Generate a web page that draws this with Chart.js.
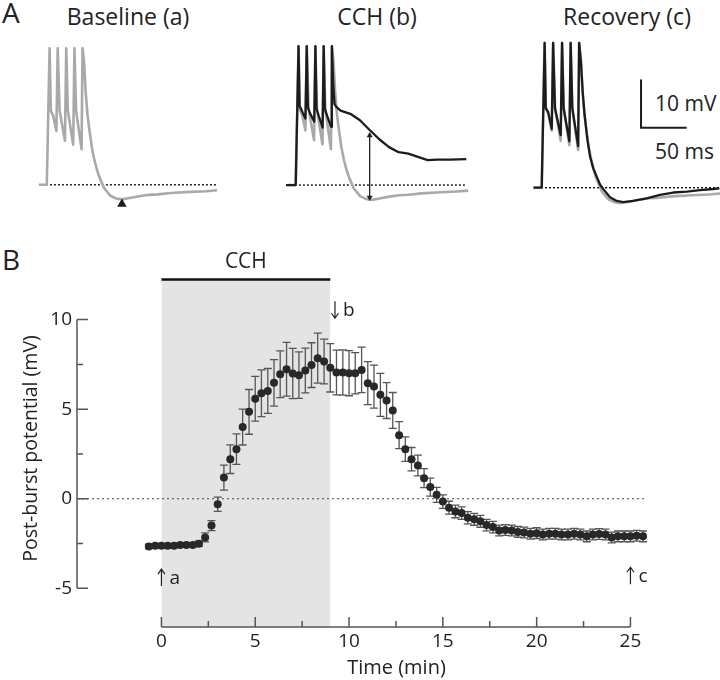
<!DOCTYPE html>
<html lang="en">
<head>
<meta charset="UTF-8" />
<title>Post-burst potential</title>
<script src="https://cdn.jsdelivr.net/npm/chart.js@4"></script>
<style>
  body { margin: 0; background: #fff; }
  #wrap { position: relative; width: 720px; height: 680px; font-family: "Open Sans", sans-serif; color: #222; }
  canvas { position: absolute; }
  .lbl { position: absolute; line-height: 1; white-space: nowrap; }
  .ttl { font-size: 23px; transform: translateX(-50%); top: 5px; }
</style>
</head>
<body>
<div id="wrap">
  <div class="lbl" style="left:2px; top:-2px; font-size:28px;">A</div>
  <div class="lbl" style="left:2px; top:245px; font-size:28px;">B</div>
  <div class="lbl ttl" style="left:128px;">Baseline (a)</div>
  <div class="lbl ttl" style="left:377px;">CCH (b)</div>
  <div class="lbl ttl" style="left:627px;">Recovery (c)</div>
  <div class="lbl" style="left:655px; top:93px; font-size:21px;">10 mV</div>
  <div class="lbl" style="left:655px; top:141px; font-size:21px;">50 ms</div>

  <canvas id="traceA" width="240" height="190" style="left:0; top:30px;"></canvas>
  <canvas id="traceB" width="240" height="190" style="left:240px; top:30px;"></canvas>
  <canvas id="traceC" width="240" height="190" style="left:480px; top:30px;"></canvas>
  <canvas id="summary" width="720" height="450" style="left:0; top:230px;"></canvas>
</div>

<script>
// ---- panel A: traces, [time (ms), potential (mV) relative to baseline]
const baselineTrace = [[-9,0],[0,0],[3.2,30],[4.6,16.3],[7.3,15.2],[11,11.8],[12.5,30],[14.7,16.3],[20.8,9.7],
  [22.3,30],[24.1,16.3],[30.3,8.8],[31.7,30],[33.6,16.3],[39.9,7.8],[41,30],[42.9,26.6],[44.6,20.4],[46.8,15.2],
  [49.3,11.5],[51.9,8.0],[54.8,5.3],[57.7,3.2],[60.2,1.8],[65.7,-0.7],[73,-2.4],[79.6,-3.0],[86.2,-3.2],[95,-2.9],
  [105.9,-2.5],[117,-2.2],[127.6,-2.1],[142.4,-1.8],[164.3,-1.55],[182.6,-1.4],[195.4,-1.2]];

const cchTrace = [[-11,0],[0,0],[3.2,30],[4.4,17],[6,16.5],[8,15.6],[11,14.4],[12.5,30],[13.8,16.8],[16,15.6],
  [21,13.7],[22.3,30],[23.6,16.5],[26,15],[30.5,12.4],[31.7,30],[33,16.5],[35.5,15],[40,12.6],[41,30],[42.5,22],
  [44,17.5],[46,16.9],[50.9,16.1],[61.9,15.4],[72.8,14.0],[83.8,11.9],[94.7,9.9],[105.7,8.2],[116.6,7.1],
  [127.6,6.8],[138.5,6.1],[149.5,5.4],[160.5,5.5],[175,5.5],[193.3,5.6]];

const recoveryTrace = [[-9,0],[0,0],[3.2,30],[4.4,16.5],[7,15.7],[11,12.2],[12.5,30],[14.5,16.5],[20.8,10.9],
  [22.3,30],[24,16.5],[30.3,9.6],[31.7,30],[33.5,16.5],[39.9,8.6],[41,30],[43,26],[45,19.5],[47,15],[50,10],
  [53,6.4],[56.5,4],[60.2,2.3],[64,0.6],[67.5,-0.3],[74.8,-2.0],[82.1,-2.75],[89.4,-3.0],[100.3,-2.75],
  [115,-2.2],[129.6,-1.5],[144.1,-1.0],[158.8,-0.8],[173.4,-0.5],[188,-0.27],[194.6,-0.13]];

const troughMarker = [86.2, -4.2];          // arrowhead under the baseline trough
const amplitudeArrow = [83.8, 10.7, -2.7];  // time, top, bottom (mV)
const scaleBarMv = 10;
const scaleBarMs = 50;

// ---- panel B: post-burst potential over time
const times = [-0.67,-0.33,0,0.33,0.67,1,1.33,1.67,2,2.33,2.67,3,3.33,3.67,4,4.33,4.67,5,5.33,5.67,
  6,6.33,6.67,7,7.33,7.67,8,8.33,8.67,9,9.33,9.67,10,10.33,10.67,11,11.33,11.67,12,12.33,
  12.67,13,13.33,13.67,14,14.33,14.67,15,15.33,15.67,16,16.33,16.67,17,17.33,17.67,18,18.33,18.67,19,
  19.33,19.67,20,20.33,20.67,21,21.33,21.67,22,22.33,22.67,23,23.33,23.67,24,24.33,24.67,25,25.33,25.67];
const means = [-2.66,-2.62,-2.62,-2.62,-2.62,-2.58,-2.58,-2.58,-2.51,-2.16,-1.5,-0.31,1.18,2.21,2.77,4.0,4.85,5.58,5.89,6.02,
  6.47,6.95,7.23,6.99,6.9,7.16,7.46,7.85,7.66,7.31,7.05,7.05,7.01,7.01,7.19,6.45,6.26,5.8,5.48,4.93,
  3.55,2.77,2.21,1.86,1.15,0.65,0.22,-0.16,-0.5,-0.71,-0.8,-1.06,-1.15,-1.26,-1.47,-1.58,-1.77,-1.75,-1.77,-1.85,
  -1.88,-1.95,-1.92,-2.0,-1.95,-1.95,-2.0,-2.0,-1.95,-2.0,-2.1,-2.0,-1.97,-2.0,-2.16,-2.1,-2.1,-2.1,-2.07,-2.1];
const sems = [0.12,0.12,0.12,0.12,0.12,0.12,0.12,0.12,0.15,0.25,0.28,0.4,0.7,0.8,0.85,1.0,1.25,1.25,1.3,1.25,
  1.3,1.3,1.5,1.4,1.3,1.25,1.25,1.4,1.25,1.35,1.25,1.26,1.26,1.15,1.27,1.2,1.2,1.2,1.0,1.0,
  0.75,0.68,0.65,0.58,0.53,0.5,0.42,0.38,0.36,0.35,0.35,0.34,0.33,0.33,0.32,0.32,0.3,0.3,0.3,0.3,
  0.3,0.3,0.3,0.3,0.3,0.3,0.3,0.3,0.3,0.3,0.3,0.3,0.3,0.3,0.3,0.3,0.3,0.3,0.3,0.3];

const cchPeriod = [0, 9];
const xTickValues = [0,2.5,5,7.5,10,12.5,15,17.5,20,22.5,25];
const xLabelValues = [0,5,10,15,20,25];
const yTickValues = [-5,-2.5,0,2.5,5,7.5,10];
const yLabelValues = [-5,0,5,10];
const markerLabels = ['a','b','c'];
const markerTimes = [0, 9.25, 25];
const markerLevels = [-4.4, 10.55, -4.3];
const markerUp = [true, false, true];

Chart.defaults.font.family = '"Open Sans", sans-serif';
Chart.defaults.color = '#222';

const toXY = arr => arr.map(p => ({ x: p[0], y: p[1] }));

function lineSet(points, color, width, extra) {
  return Object.assign({
    data: points, showLine: true, borderColor: color, borderWidth: width,
    pointRadius: 0, borderJoinStyle: 'round', borderCapStyle: 'butt'
  }, extra || {});
}

function dottedBase(end) {
  return lineSet([{ x: 3.6, y: 0 }, { x: end, y: 0 }], '#111', 1.4, { borderDash: [2, 2], order: 5 });
}

function traceChart(id, xmin, xmax, ymin, ymax, datasets) {
  return new Chart(document.getElementById(id), {
    type: 'scatter',
    data: { datasets },
    options: {
      responsive: false, animation: false, events: [],
      layout: { padding: 0 },
      plugins: { legend: { display: false }, tooltip: { enabled: false } },
      scales: {
        x: { type: 'linear', display: false, min: xmin, max: xmax },
        y: { type: 'linear', display: false, min: ymin, max: ymax }
      }
    }
  });
}

const GRAY = '#a9a9a9';
const BLACK = '#1c1c1c';

// Baseline (a)
traceChart('traceA', -47.4, 215.4, -6.52, 32.8, [
  dottedBase(195),
  lineSet(toXY(baselineTrace), GRAY, 2.6, { order: 2 }),
  { data: [{ x: troughMarker[0], y: troughMarker[1] }], pointStyle: 'triangle', pointRadius: 5.5,
    pointBackgroundColor: BLACK, pointBorderWidth: 0, order: 1 }
]);

// CCH (b)
traceChart('traceB', -58.6, 204.3, -6.69, 32.65, [
  dottedBase(193),
  lineSet(toXY(baselineTrace), GRAY, 2.6, { order: 3 }),
  lineSet(toXY(cchTrace), BLACK, 2.3, { order: 2 }),
  lineSet([{ x: amplitudeArrow[0], y: amplitudeArrow[1] }, { x: amplitudeArrow[0], y: amplitudeArrow[2] }], '#222', 1.3,
    { order: 1, pointRadius: 3.5, pointStyle: 'triangle', pointRotation: [0, 180],
      pointBackgroundColor: '#222', pointBorderWidth: 0 })
]);

// Recovery (c) with the scale bar
const barCorner = [108.8, 12.4];
traceChart('traceC', -67.6, 195.3, -6.69, 32.65, [
  dottedBase(195),
  lineSet(toXY(baselineTrace), GRAY, 2.6, { order: 3 }),
  lineSet(toXY(recoveryTrace), BLACK, 2.3, { order: 2 }),
  lineSet([{ x: barCorner[0], y: barCorner[1] + scaleBarMv }, { x: barCorner[0], y: barCorner[1] },
    { x: barCorner[0] + scaleBarMs, y: barCorner[1] }], BLACK, 2, { order: 1, borderJoinStyle: 'miter' })
]);

// ---- panel B plugins
const errorBars = {
  id: 'errorBars',
  beforeDatasetDraw(chart, args) {
    if (args.index !== 2) return;
    const { ctx, scales: { x, y } } = chart;
    ctx.save();
    ctx.strokeStyle = '#555';
    ctx.lineWidth = 1.3;
    times.forEach((t, i) => {
      const px = x.getPixelForValue(t);
      const top = y.getPixelForValue(means[i] + sems[i]);
      const bot = y.getPixelForValue(means[i] - sems[i]);
      ctx.beginPath();
      ctx.moveTo(px, top); ctx.lineTo(px, bot);
      ctx.moveTo(px - 4, top); ctx.lineTo(px + 4, top);
      ctx.moveTo(px - 4, bot); ctx.lineTo(px + 4, bot);
      ctx.stroke();
    });
    ctx.restore();
  }
};

const axesAndNotes = {
  id: 'axesAndNotes',
  afterDraw(chart) {
    const { ctx, chartArea, scales: { x, y } } = chart;
    ctx.save();
    ctx.strokeStyle = '#555';
    ctx.lineWidth = 1.5;
    ctx.lineCap = 'butt';
    // y axis and inward ticks
    const ax = chartArea.left;
    ctx.beginPath();
    ctx.moveTo(ax, y.getPixelForValue(yTickValues[0]));
    ctx.lineTo(ax, y.getPixelForValue(yTickValues[yTickValues.length - 1]));
    yTickValues.forEach(v => {
      const py = y.getPixelForValue(v);
      ctx.moveTo(ax, py);
      ctx.lineTo(ax + (yLabelValues.includes(v) ? 11 : 6), py);
    });
    // x axis and inward ticks
    const ay = chartArea.bottom;
    ctx.moveTo(x.getPixelForValue(xTickValues[0]), ay);
    ctx.lineTo(x.getPixelForValue(xTickValues[xTickValues.length - 1]), ay);
    xTickValues.forEach(v => {
      const px = x.getPixelForValue(v);
      ctx.moveTo(px, ay);
      ctx.lineTo(px, ay - (xLabelValues.includes(v) ? 10 : 6));
    });
    ctx.stroke();

    // CCH label over the bar
    ctx.fillStyle = '#222';
    ctx.font = '21px "Open Sans", sans-serif';
    ctx.textAlign = 'center';
    ctx.textBaseline = 'alphabetic';
    ctx.fillText('CCH', x.getPixelForValue((cchPeriod[0] + cchPeriod[1]) / 2), y.getPixelForValue(12.24) - 11);

    // sample arrows a, b, c
    ctx.strokeStyle = '#222';
    ctx.lineWidth = 1.2;
    ctx.font = '19px "Open Sans", sans-serif';
    ctx.textAlign = 'left';
    ctx.textBaseline = 'middle';
    markerLabels.forEach((lab, i) => {
      const px = x.getPixelForValue(markerTimes[i]);
      const py = y.getPixelForValue(markerLevels[i]);
      const half = 8.5;
      const tipY = markerUp[i] ? py - half : py + half;
      const dir = markerUp[i] ? 1 : -1;
      ctx.beginPath();
      ctx.moveTo(px, py - half); ctx.lineTo(px, py + half);
      ctx.moveTo(px - 3.5, tipY + dir * 5); ctx.lineTo(px, tipY); ctx.lineTo(px + 3.5, tipY + dir * 5);
      ctx.stroke();
      ctx.fillText(lab, px + 8, py + 1);
    });
    ctx.restore();
  }
};

new Chart(document.getElementById('summary'), {
  type: 'scatter',
  data: {
    datasets: [
      lineSet([{ x: cchPeriod[0], y: 12.24 }, { x: cchPeriod[1], y: 12.24 }], '#111', 2.4,
        { fill: 'start', backgroundColor: '#e4e4e4', order: 10 }),
      lineSet([{ x: -4.5, y: 0 }, { x: 25.8, y: 0 }], '#444', 1.2, { borderDash: [2, 3], order: 5 }),
      { data: times.map((t, i) => ({ x: t, y: means[i] })), pointRadius: 4,
        pointBackgroundColor: '#282828', pointBorderWidth: 0, order: 1 }
    ]
  },
  options: {
    responsive: false, animation: false, events: [],
    layout: { padding: { top: 40, right: 2, left: 0, bottom: 0 } },
    plugins: { legend: { display: false }, tooltip: { enabled: false } },
    scales: {
      x: {
        type: 'linear', min: -4.5, max: 29.56,
        afterFit: s => { s.height = 53; },
        afterBuildTicks: s => { s.ticks = xTickValues.map(v => ({ value: v })); },
        grid: { display: false, drawTicks: false }, border: { display: false },
        ticks: { autoSkip: false, maxRotation: 0, padding: 3, font: { size: 19 }, color: '#222',
          callback: v => xLabelValues.includes(v) ? String(v) : '' },
        title: { display: true, text: 'Time (min)', font: { size: 20 }, color: '#222', padding: { top: 0, bottom: 0 } }
      },
      y: {
        type: 'linear', min: -7.16, max: 12.77,
        afterFit: s => { s.width = 77; },
        afterBuildTicks: s => { s.ticks = yTickValues.map(v => ({ value: v })); },
        grid: { display: false, drawTicks: false }, border: { display: false },
        ticks: { autoSkip: false, padding: 5, font: { size: 19 }, color: '#222',
          callback: v => yLabelValues.includes(v) ? String(v) : '' },
        title: { display: true, text: 'Post-burst potential (mV)', font: { size: 19.5 }, color: '#222',
          padding: { top: 20, bottom: 0 } }
      }
    }
  },
  plugins: [errorBars, axesAndNotes]
});
</script>
</body>
</html>
